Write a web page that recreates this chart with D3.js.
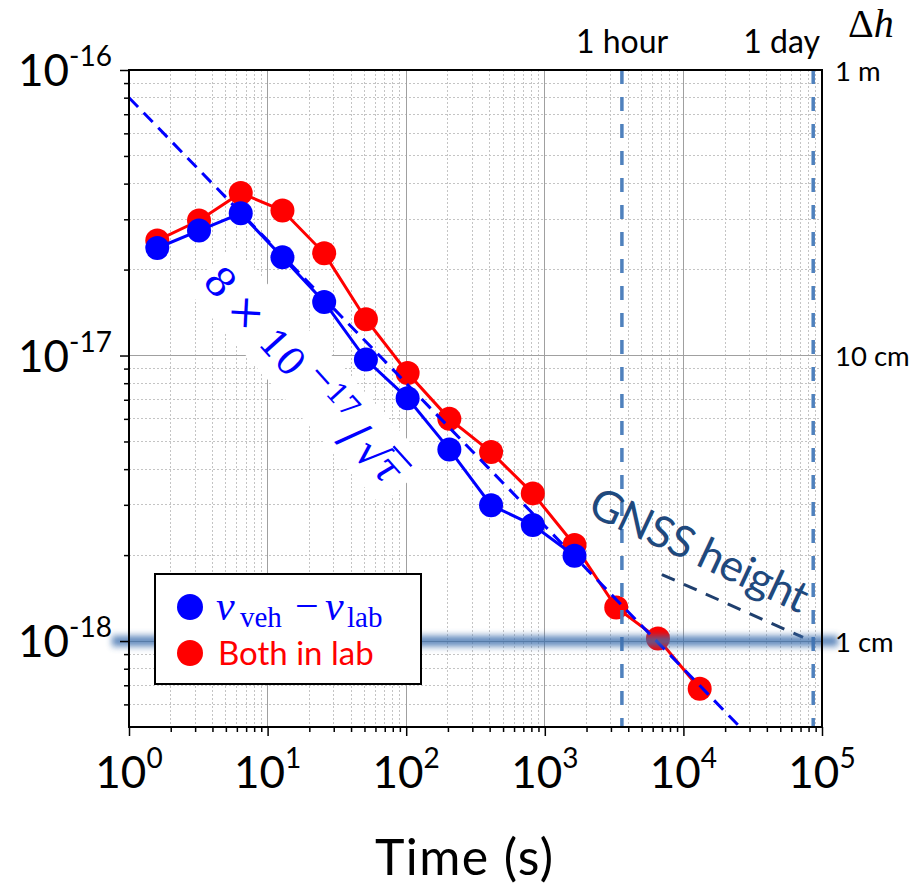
<!DOCTYPE html>
<html>
<head>
<meta charset="utf-8">
<script src="https://cdn.jsdelivr.net/npm/d3@7"></script>
<style>
  body { margin: 0; background: #fff; }
  svg { display: block; }
</style>
</head>
<body>
<svg id="chart" width="918" height="886"></svg>
<script>
// Averaging times (s) and instability values of the two comparisons
const tau = [1.6, 3.2, 6.4, 12.8, 25.6, 51.2, 102.4, 204.8, 409.6, 819.2, 1638.4, 3276.8, 6553.6, 13107.2];
const vehicleMinusLab = [2.38e-17, 2.74e-17, 3.15e-17, 2.21e-17, 1.54e-17, 9.68e-18, 7.08e-18, 4.69e-18, 2.99e-18, 2.55e-18, 1.99e-18];
const bothInLab = [2.53e-17, 2.97e-17, 3.71e-17, 3.22e-17, 2.28e-17, 1.34e-17, 8.69e-18, 6.0e-18, 4.59e-18, 3.29e-18, 2.17e-18, 1.31e-18, 1.02e-18, 6.81e-19];
const seriesNames = ["vehicle", "Both in lab"];

// White-noise guide 8e-17 / sqrt(tau)
const fitCoefficient = 8e-17;
const fitRange = [1, 1e5];

// Reference times
const markerTimes = [3600, 86400];
const markerLabels = ["1 hour", "1 day"];

// GNSS height guide
const gnssTau = [7000, 73000];
const gnssValue = [1.71e-18, 1.03e-18];
const gnssLabel = "GNSS height";

// Axis ticks
const xTickValues = [1, 10, 100, 1000, 1e4, 1e5];
const xTickExponents = ["0", "1", "2", "3", "4", "5"];
const yTickValues = [1e-16, 1e-17, 1e-18];
const yTickExponents = ["-16", "-17", "-18"];

// Equivalent height difference on the right side
const heightValues = [1e-16, 1e-17, 1e-18];
const heightLabels = ["1 m", "10 cm", "1 cm"];
const bandValue = 1e-18;

const xDomain = [1, 1e5];
const yDomain = [5e-19, 1e-16];

const svg = d3.select("#chart");
const sans = "Lato, 'Open Sans', sans-serif";
const serif = "'Liberation Serif', 'DejaVu Serif', serif";
const mathSerif = "'DejaVu Serif', 'Liberation Serif', serif";

const x = d3.scaleLog().domain(xDomain).range([129, 822]);
const y = d3.scaleLog().domain(yDomain).range([727, 70]);
const [x0, x1] = x.range();
const [y0, y1] = y.range();

const defs = svg.append("defs");
defs.append("clipPath").attr("id", "plotClip")
  .append("rect").attr("x", x0).attr("y", y1).attr("width", x1 - x0).attr("height", y0 - y1);
defs.append("filter").attr("id", "bandBlur")
  .attr("x", "-5%").attr("y", "-200%").attr("width", "110%").attr("height", "500%")
  .append("feGaussianBlur").attr("stdDeviation", "3 3.5");

// minor positions
const minorX = [];
for (let n = 0; n <= 4; n++) for (let k = 2; k <= 9; k++) minorX.push(k * Math.pow(10, n));
const minorY = [];
for (const e of [-19, -18, -17]) for (let k = 2; k <= 9; k++) {
  const v = k * Math.pow(10, e);
  if (v > yDomain[0] * 1.01 && v < yDomain[1] * 0.99) minorY.push(v);
}

// grid
const grid = svg.append("g").attr("shape-rendering", "crispEdges");
grid.selectAll(".gxm").data(minorX).join("line")
  .attr("x1", d => x(d)).attr("x2", d => x(d)).attr("y1", y1).attr("y2", y0)
  .attr("stroke", "#c4c4c4").attr("stroke-width", 1).attr("stroke-dasharray", "2,2");
grid.selectAll(".gym").data(minorY).join("line")
  .attr("y1", d => y(d)).attr("y2", d => y(d)).attr("x1", x0).attr("x2", x1)
  .attr("stroke", "#c4c4c4").attr("stroke-width", 1).attr("stroke-dasharray", "2,2");
grid.selectAll(".gxM").data(xTickValues.slice(1, -1)).join("line")
  .attr("x1", d => x(d)).attr("x2", d => x(d)).attr("y1", y1).attr("y2", y0)
  .attr("stroke", "#a0a0a0").attr("stroke-width", 1);
grid.selectAll(".gyM").data(yTickValues.slice(1)).join("line")
  .attr("y1", d => y(d)).attr("y2", d => y(d)).attr("x1", x0).attr("x2", x1)
  .attr("stroke", "#a0a0a0").attr("stroke-width", 1);

// backing panel behind the guide formula
const formulaPos = "translate(203,284) rotate(48)";
svg.append("g").attr("transform", formulaPos)
  .append("rect").attr("x", -8).attr("y", -48).attr("width", 292).attr("height", 64).attr("fill", "#fff");

// data series
const plot = svg.append("g").attr("clip-path", "url(#plotClip)");
const lineGen = d3.line().x(d => x(d[0])).y(d => y(d[1]));
const series = [
  { values: bothInLab, color: "#ff0000" },
  { values: vehicleMinusLab, color: "#0000ff" }
];
series.forEach(s => {
  const pts = s.values.map((v, i) => [tau[i], v]);
  plot.append("path").attr("d", lineGen(pts)).attr("fill", "none")
    .attr("stroke", s.color).attr("stroke-width", 3);
  plot.selectAll(null).data(pts).join("circle")
    .attr("cx", d => x(d[0])).attr("cy", d => y(d[1])).attr("r", 12).attr("fill", s.color);
});

// 8e-17/sqrt(tau) guide
const fitPts = fitRange.map(t => [t, fitCoefficient / Math.sqrt(t)]);
plot.append("path").attr("d", lineGen(fitPts)).attr("fill", "none")
  .attr("stroke", "#0000ff").attr("stroke-width", 3).attr("stroke-dasharray", "13,8");

// reference time lines
plot.selectAll(null).data(markerTimes).join("line")
  .attr("x1", d => x(d)).attr("x2", d => x(d)).attr("y1", y1).attr("y2", y0)
  .attr("stroke", "#4f81bd").attr("stroke-width", 3.5).attr("stroke-dasharray", "14,13");

// GNSS guide
plot.append("path").attr("d", lineGen(gnssTau.map((t, i) => [t, gnssValue[i]])))
  .attr("fill", "none").attr("stroke", "#1f3f6e").attr("stroke-width", 3).attr("stroke-dasharray", "14,10");

// 1 cm band
svg.append("rect").attr("x", 112).attr("width", 726)
  .attr("y", y(bandValue) - 5).attr("height", 10)
  .attr("fill", "#3b6dac").attr("opacity", 0.85).attr("filter", "url(#bandBlur)");

// frame
svg.append("rect").attr("x", x0).attr("y", y1).attr("width", x1 - x0).attr("height", y0 - y1)
  .attr("fill", "none").attr("stroke", "#000").attr("stroke-width", 2);

// axis ticks
const axB = svg.append("g").attr("transform", `translate(0,${y0})`);
axB.call(d3.axisBottom(x).tickValues(xTickValues).tickSize(9).tickFormat(""));
axB.append("g").call(d3.axisBottom(x).tickValues(minorX).tickSize(5).tickFormat(""));
const axL = svg.append("g").attr("transform", `translate(${x0},0)`);
axL.call(d3.axisLeft(y).tickValues(yTickValues).tickSize(9).tickFormat(""));
axL.append("g").call(d3.axisLeft(y).tickValues(minorY).tickSize(5).tickFormat(""));
svg.selectAll(".domain").remove();
svg.selectAll(".tick line").attr("stroke", "#000").attr("stroke-width", 1.5);

// tick labels
xTickValues.forEach((v, i) => {
  const t = svg.append("text").attr("x", x(v)).attr("y", 788).attr("text-anchor", "middle")
    .attr("font-family", sans).attr("font-size", 44).attr("fill", "#000");
  t.append("tspan").text("10");
  t.append("tspan").attr("font-size", 28).attr("dy", -20).text(xTickExponents[i]);
});
yTickValues.forEach((v, i) => {
  const t = svg.append("text").attr("x", 112).attr("y", y(v) + 16).attr("text-anchor", "end")
    .attr("font-family", sans).attr("font-size", 44).attr("fill", "#000");
  t.append("tspan").text("10");
  t.append("tspan").attr("font-size", 28).attr("dy", -20).text(yTickExponents[i]);
});

// right-hand height labels (drawn over the band)
heightValues.forEach((v, i) => {
  svg.append("text").attr("x", 835).attr("y", y(v) + 10.5)
    .attr("font-family", sans).attr("font-size", 27.5).attr("fill", "#000").text(heightLabels[i]);
});
const dh = svg.append("text").attr("x", 848).attr("y", 37)
  .attr("font-family", serif).attr("font-size", 40).attr("fill", "#000");
dh.append("tspan").text("Δ");
dh.append("tspan").attr("font-style", "italic").text("h");

// reference time labels
svg.append("text").attr("x", 622).attr("y", 53).attr("text-anchor", "middle")
  .attr("font-family", sans).attr("font-size", 32).text(markerLabels[0]);
svg.append("text").attr("x", 820).attr("y", 53).attr("text-anchor", "end")
  .attr("font-family", sans).attr("font-size", 32).text(markerLabels[1]);

// axis title
svg.append("text").attr("x", 464).attr("y", 875).attr("text-anchor", "middle")
  .attr("font-family", sans).attr("font-size", 50).attr("fill", "#000")
  .attr("textLength", 178).attr("lengthAdjust", "spacing").text("Time (s)");

// GNSS label
svg.append("g").attr("transform", "translate(586,514) rotate(25)")
  .append("text").attr("font-family", sans).attr("font-size", 44).attr("fill", "#1f497d")
  .attr("textLength", 236).attr("lengthAdjust", "spacing").text(gnssLabel);

// formula 8 × 10^-17 / sqrt(tau)
const fg = svg.append("g").attr("transform", formulaPos)
  .attr("font-family", mathSerif).attr("fill", "#0000ff").attr("text-anchor", "middle");
const pieces = [
  { t: "8", cx: 10, y: 0, s: 40 },
  { t: "×", cx: 50, y: 0, s: 40 },
  { t: "10", cx: 104, y: 0, s: 38 },
  { t: "−", cx: 149, y: -17, s: 30 },
  { t: "17", cx: 180, y: -17, s: 28 },
  { t: "/", cx: 213, y: 4, s: 46 },
  { t: "√", cx: 239, y: 3, s: 42 },
  { t: "τ", cx: 261, y: 0, s: 40, italic: true }
];
pieces.forEach(p => {
  fg.append("text").attr("x", p.cx).attr("y", p.y).attr("font-size", p.s)
    .attr("font-style", p.italic ? "italic" : "normal").text(p.t);
});
fg.append("line").attr("x1", 248).attr("x2", 275).attr("y1", -33).attr("y2", -33)
  .attr("stroke", "#0000ff").attr("stroke-width", 2.5);

// legend
const lg = svg.append("g");
lg.append("rect").attr("x", 155).attr("y", 574).attr("width", 266).attr("height", 110)
  .attr("fill", "#fff").attr("stroke", "#000").attr("stroke-width", 2);
lg.append("circle").attr("cx", 190).attr("cy", 607).attr("r", 13).attr("fill", "#0000ff");
lg.append("circle").attr("cx", 190).attr("cy", 653).attr("r", 13).attr("fill", "#ff0000");
const l1 = lg.append("text").attr("y", 620).attr("font-family", serif).attr("fill", "#0000ff").attr("font-size", 42);
l1.append("tspan").attr("x", 216).attr("font-style", "italic").text("ν");
l1.append("tspan").attr("x", 240).attr("dy", 7).attr("font-size", 29).text("veh");
l1.append("tspan").attr("x", 295).attr("dy", -7).text("−");
l1.append("tspan").attr("x", 325).attr("font-style", "italic").text("ν");
l1.append("tspan").attr("x", 347).attr("dy", 7).attr("font-size", 29).text("lab");
lg.append("text").attr("x", 218).attr("y", 665).attr("font-family", sans).attr("font-size", 33)
  .attr("fill", "#ff0000").text(seriesNames[1]);
</script>
</body>
</html>
